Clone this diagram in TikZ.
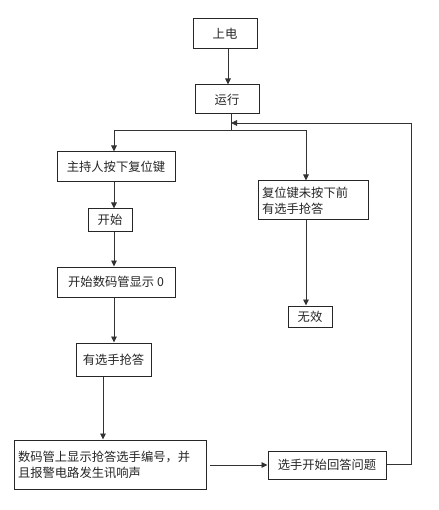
\documentclass[tikz,border=0pt]{standalone}
\usepackage{fontspec}
\setmainfont{Noto Sans CJK SC}
\usetikzlibrary{arrows.meta}
\begin{document}
\begin{tikzpicture}[x=1pt,y=-1pt,
  box/.style={draw=black!85,line width=1pt,inner sep=0pt,font=\fontsize{12.3}{16}\selectfont,text=black!85},
  arr/.style={draw=black!80,line width=0.9pt,-{Triangle[length=6pt,width=5.5pt]}},
  ln/.style={draw=black!80,line width=0.9pt}]
\useasboundingbox[fill=white] (0,0) rectangle (438,510);
\node[box,minimum width=64pt,minimum height=30pt] (sd) at (225,34) {上电};
\node[box,minimum width=64pt,minimum height=29pt] (yx) at (227,99.5) {运行};
\node[box,minimum width=118pt,minimum height=30pt] (zc) at (116,167) {主持人按下复位键};
\node[box,minimum width=44pt,minimum height=22pt] (ks) at (110,220) {开始};
\node[box,minimum width=110pt,minimum height=39pt,align=left,text width=102pt] (fw) at (313,200.5) {复位键未按下前\\有选手抢答};
\node[box,minimum width=118pt,minimum height=30pt] (xs) at (116,282) {开始数码管显示 0};
\node[box,minimum width=44pt,minimum height=21pt] (wx) at (310,316.5) {无效};
\node[box,minimum width=75pt,minimum height=33pt] (qd) at (113.5,359.5) {有选手抢答};
\node[box,minimum width=192pt,minimum height=49pt,align=left,text width=184pt] (bh) at (110,464.5) {数码管上显示抢答选手编号，并\\且报警电路发生讯响声};
\node[box,minimum width=118pt,minimum height=28pt] (hd) at (327,465) {选手开始回答问题};
\coordinate (j) at (231,130);
\coordinate (cl) at (114,130);
\coordinate (cr) at (306,130);
\coordinate (c103) at (103,400);
\coordinate (fb1) at (411,464.5);
\coordinate (fb2) at (411,123);
\coordinate (fb3) at (231,123);
\draw[arr] (sd.south -| 228,0) -- (yx.north -| 228,0);
\draw[ln] (yx.south -| j) -- (j);
\draw[ln] (cl) -- (cr);
\draw[arr] (cl) -- (zc.north -| cl);
\draw[arr] (cr) -- (fw.north -| cr);
\draw[arr] (zc.south -| cl) -- (ks.north -| cl);
\draw[arr] (ks.south -| cl) -- (xs.north -| cl);
\draw[arr] (xs.south -| cl) -- (qd.north -| cl);
\draw[arr] (fw.south -| cr) -- (wx.north -| cr);
\draw[arr] (qd.south -| c103) -- (bh.north -| c103);
\draw[arr] (bh.east |- hd.west) ++(3,0) -- (hd.west);
\draw[ln] (hd.east |- fb1) -- (fb1) -- (fb2);
\draw[arr] (fb2) -- (fb3);
\end{tikzpicture}
\end{document}
